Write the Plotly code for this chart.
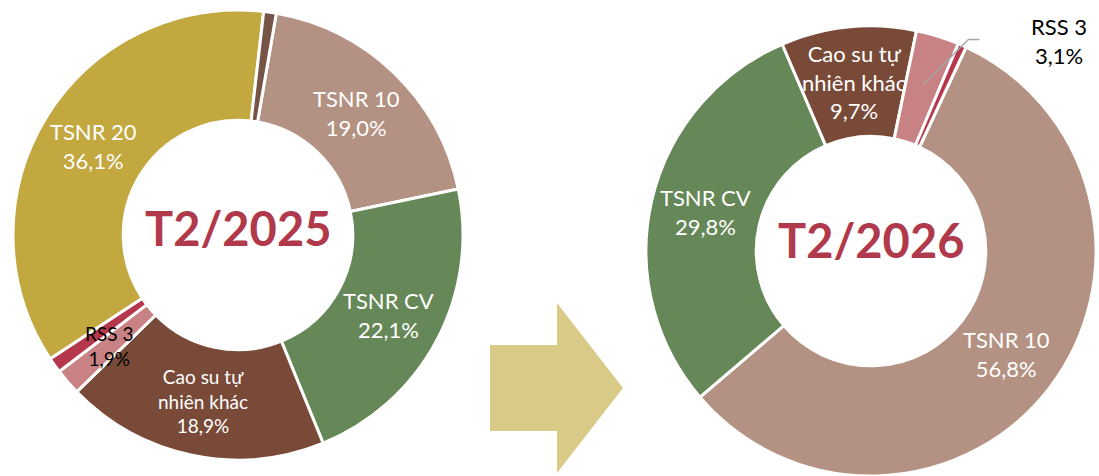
import math
import plotly.graph_objects as go

# ---- data -------------------------------------------------------------
categories = ["TSNR 10", "TSNR CV", "Cao su tự nhiên khác", "RSS 3",
              "Loại khác A", "TSNR 20", "Loại khác B"]
share_2025 = [19.0, 22.1, 18.9, 1.9, 1.1, 36.1, 0.9]
share_2026 = [56.8, 29.8, 9.7, 3.1, 0.6]
period_labels = ["T2/2025", "T2/2026"]

# ---- styling ----------------------------------------------------------
W, H = 1099, 476
FONT = "Lato"
colors = {
    "TSNR 10": "#B49283",
    "TSNR CV": "#668757",
    "Cao su tự nhiên khác": "#794A38",
    "RSS 3": "#C88283",
    "Loại khác A": "#B4374B",
    "TSNR 20": "#C3A73F",
    "Loại khác B": "#765548",
}
label_names = {
    "TSNR 10": "TSNR 10",
    "TSNR CV": "TSNR CV",
    "Cao su tự nhiên khác": "Cao su tự<br>nhiên khác",
    "RSS 3": "RSS 3",
    "TSNR 20": "TSNR 20",
}
HOLE = 0.51

# pie geometry in pixels: centre x, centre y, radius, start angle
pies = [
    dict(cx=238, cy=235, r=225, rot=9.8, values=share_2025,
         sizes={"Cao su tự nhiên khác": 19, "RSS 3": 19}, outside=None,
         title_y=228),
    dict(cx=871, cy=251, r=225, rot=25.0, values=share_2026,
         sizes={}, outside="RSS 3", title_y=240),
]


def px(x):
    return x / W


def py(y):
    return 1 - y / H


def fmt(v):
    return f"{v:.1f}".replace(".", ",") + "%"


def mid_angles(values, rot):
    total = sum(values)
    out, cum = [], 0.0
    for v in values:
        out.append(math.radians(rot + 360.0 * (cum + v / 2) / total))
        cum += v
    return out


fig = go.Figure()
annotations = []
shapes = []

for pie, period in zip(pies, period_labels):
    vals = pie["values"]
    cats = categories[:len(vals)]
    cx, cy, r = pie["cx"], pie["cy"], pie["r"]
    fig.add_trace(go.Pie(
        labels=cats,
        values=vals,
        hole=HOLE,
        sort=False,
        direction="clockwise",
        rotation=pie["rot"],
        textinfo="none",
        showlegend=False,
        marker=dict(colors=[colors[c] for c in cats],
                    line=dict(color="white", width=3)),
        domain=dict(x=[px(cx - r), px(cx + r)], y=[py(cy + r), py(cy - r)]),
    ))

    r_mid = r * (1 + HOLE) / 2
    for cat, v, ang in zip(cats, vals, mid_angles(vals, pie["rot"])):
        if cat not in label_names:
            continue
        text = f"{label_names[cat]}<br>{fmt(v)}"
        size = pie["sizes"].get(cat, 22)
        if cat == pie["outside"]:
            # callout label with a leader line from the slice
            sx = cx + r * 0.77 * math.sin(ang)
            sy = cy - r * 0.77 * math.cos(ang)
            ex, ey = sx + 46, sy - 46
            shapes.append(dict(
                type="path", xref="paper", yref="paper",
                path=f"M {px(sx)},{py(sy)} L {px(ex)},{py(ey)} L {px(ex + 11)},{py(ey)}",
                line=dict(color="#A6A6A6", width=1.5)))
            annotations.append(dict(
                x=px(ex + 91), y=py(ey + 1), xref="paper", yref="paper",
                text=text, showarrow=False, xanchor="center", yanchor="middle",
                font=dict(family=FONT, size=size, color="black")))
            continue
        tx = cx + r_mid * math.sin(ang)
        ty = cy - r_mid * math.cos(ang)
        color = "black" if cat == "RSS 3" else "white"
        annotations.append(dict(
            x=px(tx), y=py(ty), xref="paper", yref="paper",
            text=text, showarrow=False, xanchor="center", yanchor="middle",
            font=dict(family=FONT, size=size, color=color)))

    annotations.append(dict(
        x=px(cx), y=py(pie["title_y"]), xref="paper", yref="paper",
        text=f"<b>{period}</b>", showarrow=False,
        xanchor="center", yanchor="middle",
        font=dict(family=FONT, size=47, color="#B0394B")))

# block arrow between the two rings
arrow_pts = [(490, 345), (557, 345), (557, 303), (623, 388),
             (557, 473), (557, 431), (490, 431)]
arrow_path = "M " + " L ".join(f"{px(x)},{py(y)}" for x, y in arrow_pts) + " Z"
shapes.append(dict(type="path", xref="paper", yref="paper", path=arrow_path,
                   fillcolor="#DACA87", line=dict(width=0), layer="below"))

fig.update_layout(
    width=W, height=H,
    margin=dict(l=0, r=0, t=0, b=0),
    paper_bgcolor="white",
    plot_bgcolor="white",
    font=dict(family=FONT),
    annotations=annotations,
    shapes=shapes,
)

fig.write_html("out.html")
